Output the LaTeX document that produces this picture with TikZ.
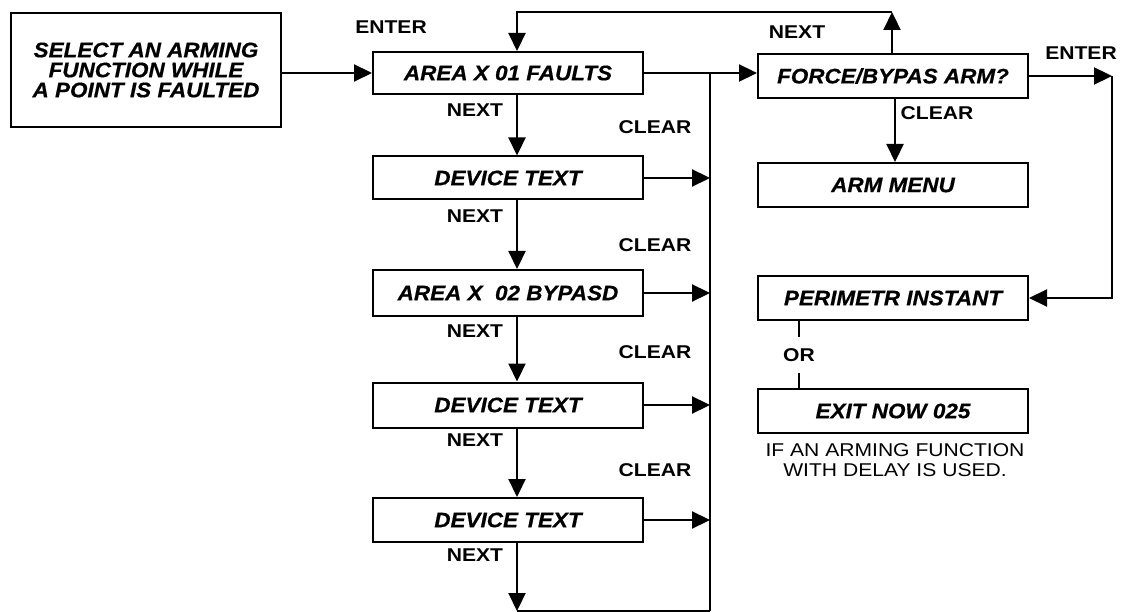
\documentclass[tikz,border=0pt]{standalone}
\usepackage{fontspec}
\usetikzlibrary{arrows.meta}
\newfontfamily\bxf[FakeStretch=1.07,FakeBold=0.6]{Liberation Sans}
\newfontfamily\lbf[FakeStretch=1.14]{Liberation Sans}
\begin{document}
\begin{tikzpicture}[x=1pt,y=-1pt,
  box/.style={draw, line width=2pt, inner sep=0pt, minimum width=270pt, minimum height=44pt,
    font=\bxf\bfseries\itshape\fontsize{21}{20}\selectfont, align=center},
  lbl/.style={inner sep=0pt, font=\lbf\bfseries\fontsize{18.5}{20}\selectfont},
  captxt/.style={inner sep=0pt, font=\lbf\fontsize{18.5}{20}\selectfont, align=center},
  ln/.style={line width=2.2pt},
  arr/.style={line width=2.2pt, -{Triangle[length=18pt,width=17pt]}}]
\useasboundingbox (0,0) rectangle (1126,612);
% boxes
\node[box, minimum width=270pt, minimum height=114pt] (start) at (146,70)
  {SELECT AN ARMING\\FUNCTION WHILE\\A POINT IS FAULTED};
\node[box, minimum height=42pt] (area) at (508,73) {AREA X 01 FAULTS};
\node[box, minimum height=43pt] (dev1) at (508,178) {DEVICE TEXT};
\node[box, minimum height=46pt] (byp) at (508,293) {AREA X\ \ 02 BYPASD};
\node[box, minimum height=45pt] (dev2) at (508,405) {DEVICE TEXT};
\node[box] (dev3) at (508,520) {DEVICE TEXT};
\node[box] (force) at (893,76) {FORCE/BYPAS ARM?};
\node[box] (armmenu) at (893,185) {ARM MENU};
\node[box] (perim) at (893,298) {PERIMETR INSTANT};
\node[box] (exit) at (893,411) {EXIT NOW 025};
% labels
\node[lbl] (lenter1) at (391,27) {ENTER};
\node[lbl] (lnext0) at (797,32) {NEXT};
\node[lbl] (lenter2) at (1081,53) {ENTER};
\node[lbl] (lclear0) at (937,113) {CLEAR};
\node[lbl] (ln1) at (475,110) {NEXT};
\node[lbl] (ln2) at (475,216) {NEXT};
\node[lbl] (ln3) at (475,331) {NEXT};
\node[lbl] (ln4) at (475,440) {NEXT};
\node[lbl] (ln5) at (475,555) {NEXT};
\node[lbl] (lc1) at (655,127) {CLEAR};
\node[lbl] (lc2) at (655,245) {CLEAR};
\node[lbl] (lc3) at (655,352) {CLEAR};
\node[lbl] (lc4) at (655,470) {CLEAR};
\node[lbl, minimum height=36pt] (orl) at (799,355) {OR};
\node[captxt] (caption) at (895,460) {IF AN ARMING FUNCTION\\WITH DELAY IS USED.};
% coordinates
\coordinate (nx) at (517,0);
\coordinate (bus) at (710,0);
\coordinate (loopR) at (892,12);
\coordinate (loopL) at (517,12);
\coordinate (enR) at (1112,76);
\coordinate (clx) at (895,0);
\coordinate (botL) at (517,611);
\coordinate (busBot) at (710,611);
% connectors
\draw[arr] (start.east |- area.west) -- (area.west);
\draw[arr] (force.north -| loopR) -- (loopR);
\draw[arr] (loopR) -- (loopL) -- (loopL |- area.north);
\draw[arr] (area.east) -- (area.east -| force.west);
\draw[ln] (busBot) -- (area.east -| bus);
\draw[arr] (area.south -| nx) -- (dev1.north -| nx);
\draw[arr] (dev1.south -| nx) -- (byp.north -| nx);
\draw[arr] (byp.south -| nx) -- (dev2.north -| nx);
\draw[arr] (dev2.south -| nx) -- (dev3.north -| nx);
\draw[arr] (dev3.south -| nx) -- (botL);
\draw[ln] (botL) -- (busBot);
\draw[arr] (dev1.east) -- (dev1.east -| bus);
\draw[arr] (byp.east) -- (byp.east -| bus);
\draw[arr] (dev2.east) -- (dev2.east -| bus);
\draw[arr] (dev3.east) -- (dev3.east -| bus);
\draw[arr] (force.east) -- (enR);
\draw[arr] (enR) -- (enR |- perim.east) -- (perim.east);
\draw[arr] (force.south -| clx) -- (armmenu.north -| clx);
\draw[ln] (perim.south -| orl) -- (orl.north);
\draw[ln] (orl.south) -- (exit.north -| orl);
\end{tikzpicture}
\end{document}
